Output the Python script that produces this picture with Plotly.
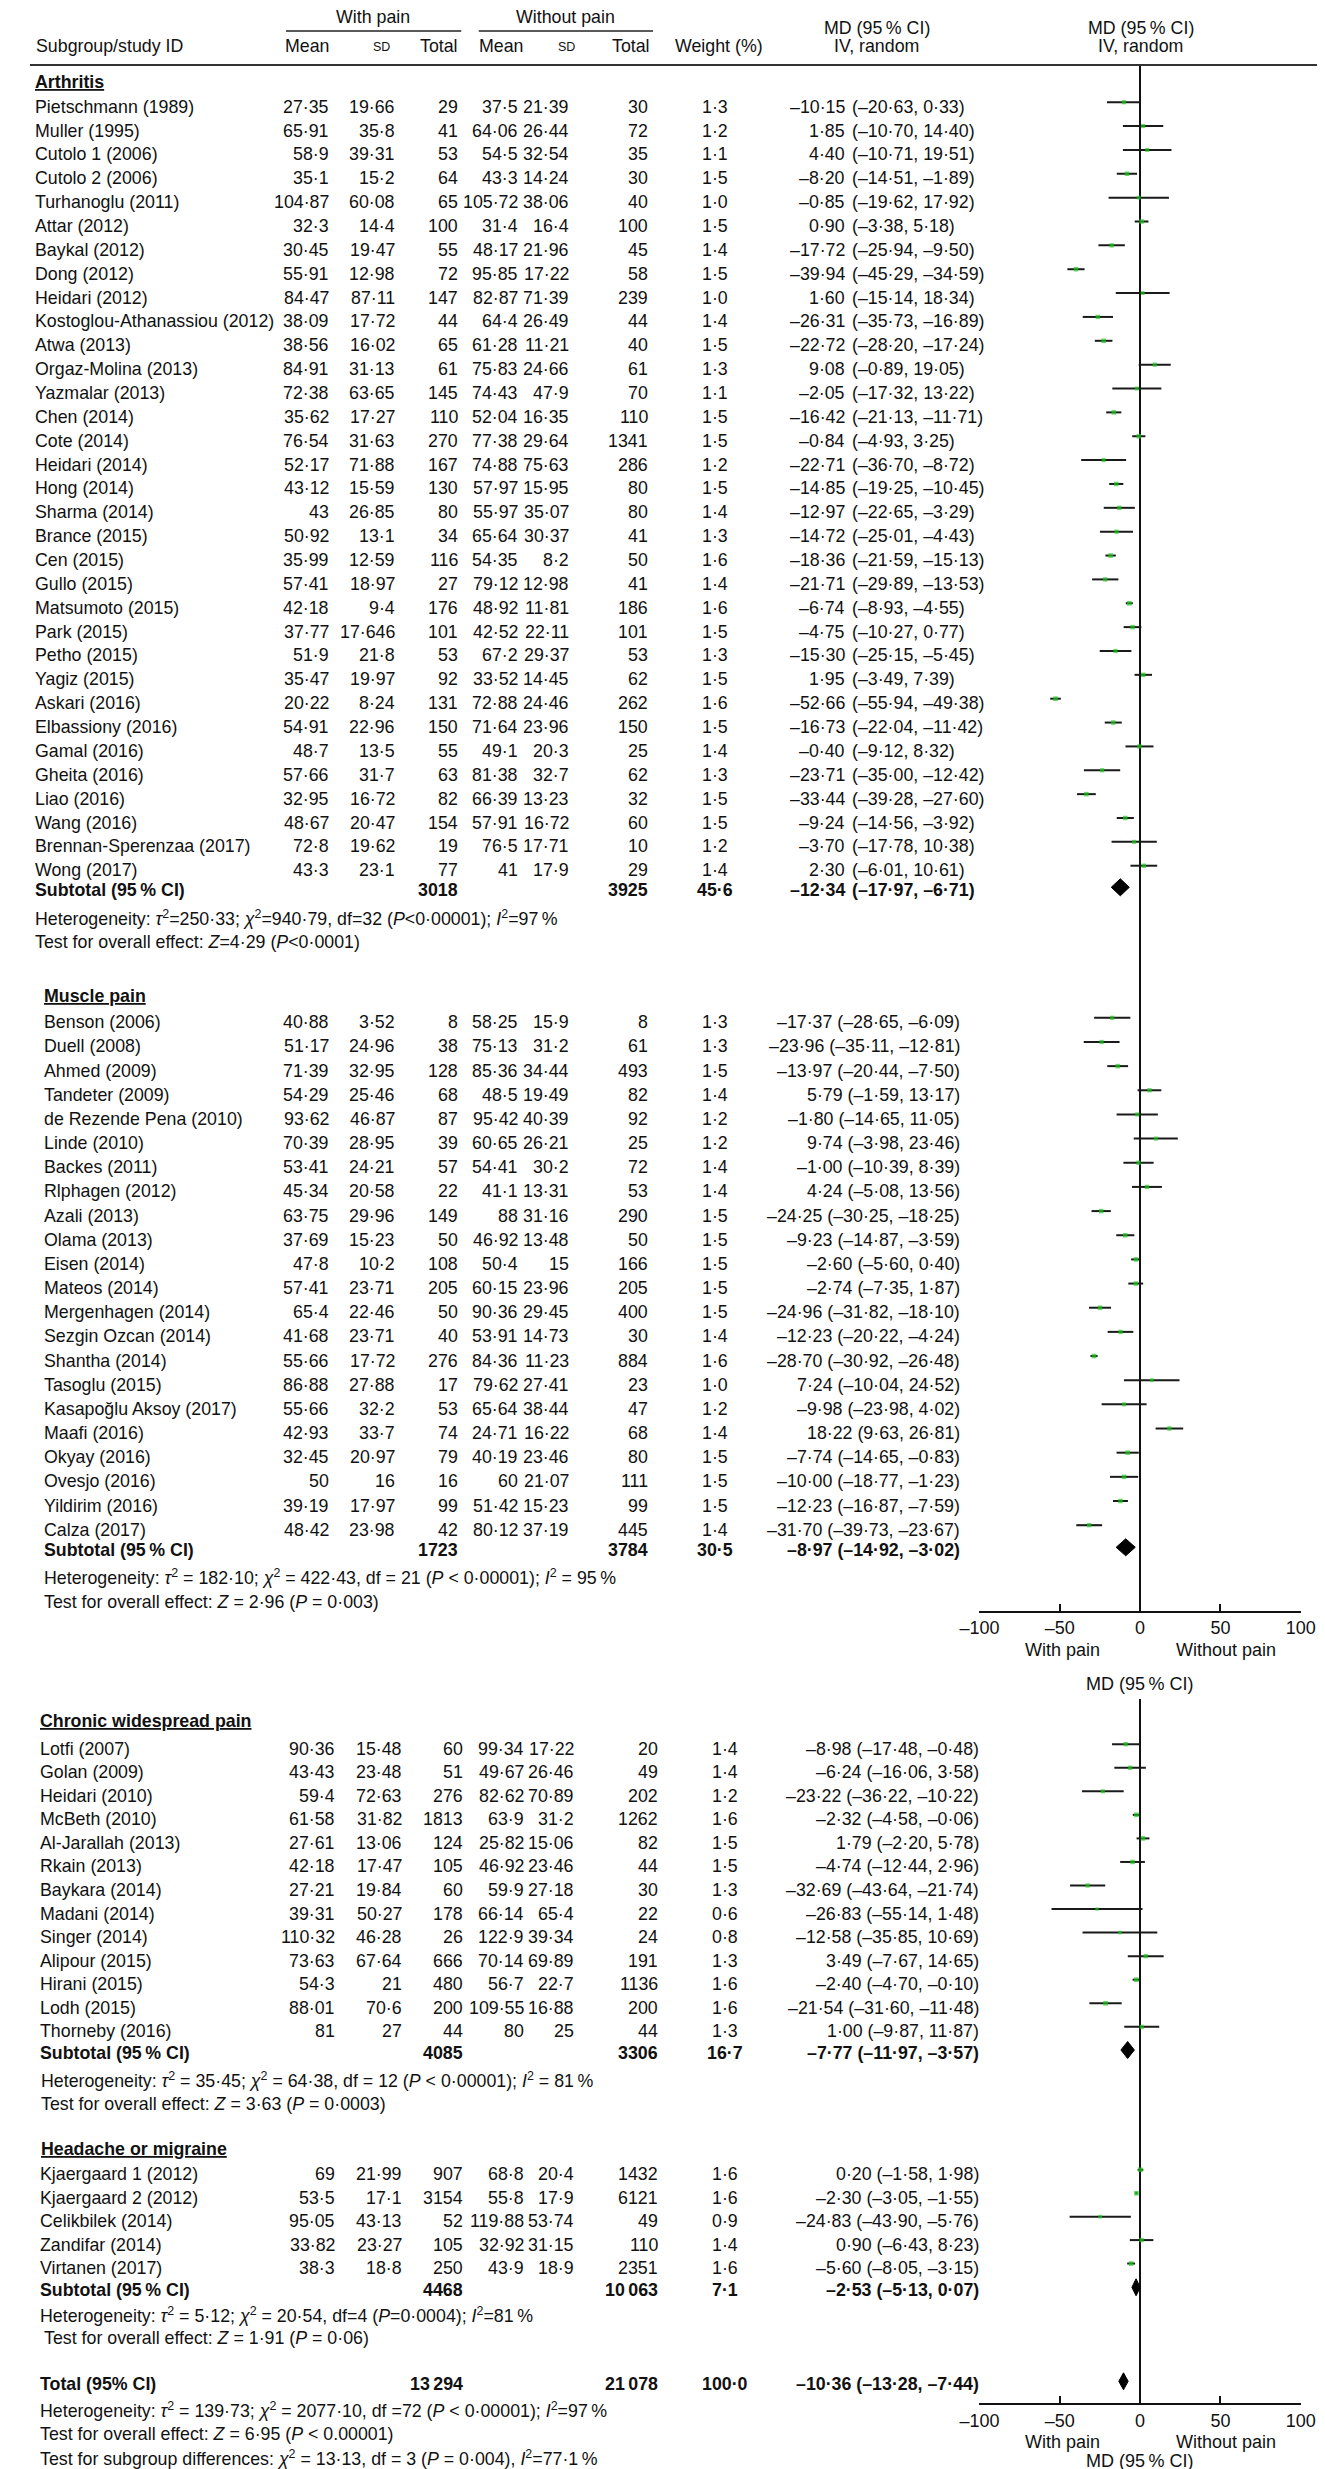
import plotly.graph_objects as go

W, H = 1325, 2469
FONT = "Liberation Sans, Arial, Helvetica, sans-serif"
FS = 17.8
TXT = "#111111"

# ------------------------------------------------------------------ DATA
# Arthritis
arth_names = ["Pietschmann (1989)", "Muller (1995)", "Cutolo 1 (2006)", "Cutolo 2 (2006)", "Turhanoglu (2011)",
              "Attar (2012)", "Baykal (2012)", "Dong (2012)", "Heidari (2012)", "Kostoglou-Athanassiou (2012)",
              "Atwa (2013)", "Orgaz-Molina (2013)", "Yazmalar (2013)", "Chen (2014)", "Cote (2014)",
              "Heidari (2014)", "Hong (2014)", "Sharma (2014)", "Brance (2015)", "Cen (2015)", "Gullo (2015)",
              "Matsumoto (2015)", "Park (2015)", "Petho (2015)", "Yagiz (2015)", "Askari (2016)",
              "Elbassiony (2016)", "Gamal (2016)", "Gheita (2016)", "Liao (2016)", "Wang (2016)",
              "Brennan-Sperenzaa (2017)", "Wong (2017)"]
arth_mean_w = [27.35, 65.91, 58.9, 35.1, 104.87, 32.3, 30.45, 55.91, 84.47, 38.09, 38.56, 84.91, 72.38, 35.62, 76.54,
               52.17, 43.12, 43, 50.92, 35.99, 57.41, 42.18, 37.77, 51.9, 35.47, 20.22, 54.91, 48.7, 57.66, 32.95,
               48.67, 72.8, 43.3]
arth_sd_w = [19.66, 35.8, 39.31, 15.2, 60.08, 14.4, 19.47, 12.98, 87.11, 17.72, 16.02, 31.13, 63.65, 17.27, 31.63,
             71.88, 15.59, 26.85, 13.1, 12.59, 18.97, 9.4, 17.646, 21.8, 19.97, 8.24, 22.96, 13.5, 31.7, 16.72,
             20.47, 19.62, 23.1]
arth_n_w = [29, 41, 53, 64, 65, 100, 55, 72, 147, 44, 65, 61, 145, 110, 270, 167, 130, 80, 34, 116, 27, 176, 101, 53,
            92, 131, 150, 55, 63, 82, 154, 19, 77]
arth_mean_wo = [37.5, 64.06, 54.5, 43.3, 105.72, 31.4, 48.17, 95.85, 82.87, 64.4, 61.28, 75.83, 74.43, 52.04, 77.38,
                74.88, 57.97, 55.97, 65.64, 54.35, 79.12, 48.92, 42.52, 67.2, 33.52, 72.88, 71.64, 49.1, 81.38,
                66.39, 57.91, 76.5, 41]
arth_sd_wo = [21.39, 26.44, 32.54, 14.24, 38.06, 16.4, 21.96, 17.22, 71.39, 26.49, 11.21, 24.66, 47.9, 16.35, 29.64,
              75.63, 15.95, 35.07, 30.37, 8.2, 12.98, 11.81, 22.11, 29.37, 14.45, 24.46, 23.96, 20.3, 32.7, 13.23,
              16.72, 17.71, 17.9]
arth_n_wo = [30, 72, 35, 30, 40, 100, 45, 58, 239, 44, 40, 61, 70, 110, 1341, 286, 80, 80, 41, 50, 41, 186, 101, 53,
             62, 262, 150, 25, 62, 32, 60, 10, 29]
arth_weight = [1.3, 1.2, 1.1, 1.5, 1.0, 1.5, 1.4, 1.5, 1.0, 1.4, 1.5, 1.3, 1.1, 1.5, 1.5, 1.2, 1.5, 1.4, 1.3, 1.6,
               1.4, 1.6, 1.5, 1.3, 1.5, 1.6, 1.5, 1.4, 1.3, 1.5, 1.5, 1.2, 1.4]
arth_md = [-10.15, 1.85, 4.40, -8.20, -0.85, 0.90, -17.72, -39.94, 1.60, -26.31, -22.72, 9.08, -2.05, -16.42, -0.84,
           -22.71, -14.85, -12.97, -14.72, -18.36, -21.71, -6.74, -4.75, -15.30, 1.95, -52.66, -16.73, -0.40,
           -23.71, -33.44, -9.24, -3.70, 2.30]
arth_lo = [-20.63, -10.70, -10.71, -14.51, -19.62, -3.38, -25.94, -45.29, -15.14, -35.73, -28.20, -0.89, -17.32,
           -21.13, -4.93, -36.70, -19.25, -22.65, -25.01, -21.59, -29.89, -8.93, -10.27, -25.15, -3.49, -55.94,
           -22.04, -9.12, -35.00, -39.28, -14.56, -17.78, -6.01]
arth_hi = [0.33, 14.40, 19.51, -1.89, 17.92, 5.18, -9.50, -34.59, 18.34, -16.89, -17.24, 19.05, 13.22, -11.71, 3.25,
           -8.72, -10.45, -3.29, -4.43, -15.13, -13.53, -4.55, 0.77, -5.45, 7.39, -49.38, -11.42, 8.32, -12.42,
           -27.60, -3.92, 10.38, 10.61]
arth_sub_n = [3018, 3925]
arth_sub_weight = 45.6
arth_sub_md = [-12.34, -17.97, -6.71]
arth_het = ("Heterogeneity: <i>τ</i><sup>2</sup>=250·33; <i>χ</i><sup>2</sup>=940·79, df=32 "
            "(<i>P</i>&lt;0·00001); <i>I</i><sup>2</sup>=97\u2009%")
arth_test = "Test for overall effect: <i>Z</i>=4·29 (<i>P</i>&lt;0·0001)"

# Muscle pain
musc_names = ["Benson (2006)", "Duell (2008)", "Ahmed (2009)", "Tandeter (2009)", "de Rezende Pena (2010)",
              "Linde (2010)", "Backes (2011)", "Rlphagen (2012)", "Azali (2013)", "Olama (2013)", "Eisen (2014)",
              "Mateos (2014)", "Mergenhagen (2014)", "Sezgin Ozcan (2014)", "Shantha (2014)", "Tasoglu (2015)",
              "Kasapoğlu Aksoy (2017)", "Maafi (2016)", "Okyay (2016)", "Ovesjo (2016)", "Yildirim (2016)",
              "Calza (2017)"]
musc_mean_w = [40.88, 51.17, 71.39, 54.29, 93.62, 70.39, 53.41, 45.34, 63.75, 37.69, 47.8, 57.41, 65.4, 41.68, 55.66,
               86.88, 55.66, 42.93, 32.45, 50, 39.19, 48.42]
musc_sd_w = [3.52, 24.96, 32.95, 25.46, 46.87, 28.95, 24.21, 20.58, 29.96, 15.23, 10.2, 23.71, 22.46, 23.71, 17.72,
             27.88, 32.2, 33.7, 20.97, 16, 17.97, 23.98]
musc_n_w = [8, 38, 128, 68, 87, 39, 57, 22, 149, 50, 108, 205, 50, 40, 276, 17, 53, 74, 79, 16, 99, 42]
musc_mean_wo = [58.25, 75.13, 85.36, 48.5, 95.42, 60.65, 54.41, 41.1, 88, 46.92, 50.4, 60.15, 90.36, 53.91, 84.36,
                79.62, 65.64, 24.71, 40.19, 60, 51.42, 80.12]
musc_sd_wo = [15.9, 31.2, 34.44, 19.49, 40.39, 26.21, 30.2, 13.31, 31.16, 13.48, 15, 23.96, 29.45, 14.73, 11.23,
              27.41, 38.44, 16.22, 23.46, 21.07, 15.23, 37.19]
musc_n_wo = [8, 61, 493, 82, 92, 25, 72, 53, 290, 50, 166, 205, 400, 30, 884, 23, 47, 68, 80, 111, 99, 445]
musc_weight = [1.3, 1.3, 1.5, 1.4, 1.2, 1.2, 1.4, 1.4, 1.5, 1.5, 1.5, 1.5, 1.5, 1.4, 1.6, 1.0, 1.2, 1.4, 1.5, 1.5,
               1.5, 1.4]
musc_md = [-17.37, -23.96, -13.97, 5.79, -1.80, 9.74, -1.00, 4.24, -24.25, -9.23, -2.60, -2.74, -24.96, -12.23,
           -28.70, 7.24, -9.98, 18.22, -7.74, -10.00, -12.23, -31.70]
musc_lo = [-28.65, -35.11, -20.44, -1.59, -14.65, -3.98, -10.39, -5.08, -30.25, -14.87, -5.60, -7.35, -31.82,
           -20.22, -30.92, -10.04, -23.98, 9.63, -14.65, -18.77, -16.87, -39.73]
musc_hi = [-6.09, -12.81, -7.50, 13.17, 11.05, 23.46, 8.39, 13.56, -18.25, -3.59, 0.40, 1.87, -18.10, -4.24, -26.48,
           24.52, 4.02, 26.81, -0.83, -1.23, -7.59, -23.67]
musc_sub_n = [1723, 3784]
musc_sub_weight = 30.5
musc_sub_md = [-8.97, -14.92, -3.02]
musc_het = ("Heterogeneity: <i>τ</i><sup>2</sup> = 182·10; <i>χ</i><sup>2</sup> = 422·43, df = 21 "
            "(<i>P</i> &lt; 0·00001); <i>I</i><sup>2</sup> = 95\u2009%")
musc_test = "Test for overall effect: <i>Z</i> = 2·96 (<i>P</i> = 0·003)"

# Chronic widespread pain
cwp_names = ["Lotfi (2007)", "Golan (2009)", "Heidari (2010)", "McBeth (2010)", "Al-Jarallah (2013)", "Rkain (2013)",
             "Baykara (2014)", "Madani (2014)", "Singer (2014)", "Alipour (2015)", "Hirani (2015)", "Lodh (2015)",
             "Thorneby (2016)"]
cwp_mean_w = [90.36, 43.43, 59.4, 61.58, 27.61, 42.18, 27.21, 39.31, 110.32, 73.63, 54.3, 88.01, 81]
cwp_sd_w = [15.48, 23.48, 72.63, 31.82, 13.06, 17.47, 19.84, 50.27, 46.28, 67.64, 21, 70.6, 27]
cwp_n_w = [60, 51, 276, 1813, 124, 105, 60, 178, 26, 666, 480, 200, 44]
cwp_mean_wo = [99.34, 49.67, 82.62, 63.9, 25.82, 46.92, 59.9, 66.14, 122.9, 70.14, 56.7, 109.55, 80]
cwp_sd_wo = [17.22, 26.46, 70.89, 31.2, 15.06, 23.46, 27.18, 65.4, 39.34, 69.89, 22.7, 16.88, 25]
cwp_n_wo = [20, 49, 202, 1262, 82, 44, 30, 22, 24, 191, 1136, 200, 44]
cwp_weight = [1.4, 1.4, 1.2, 1.6, 1.5, 1.5, 1.3, 0.6, 0.8, 1.3, 1.6, 1.6, 1.3]
cwp_md = [-8.98, -6.24, -23.22, -2.32, 1.79, -4.74, -32.69, -26.83, -12.58, 3.49, -2.40, -21.54, 1.00]
cwp_lo = [-17.48, -16.06, -36.22, -4.58, -2.20, -12.44, -43.64, -55.14, -35.85, -7.67, -4.70, -31.60, -9.87]
cwp_hi = [-0.48, 3.58, -10.22, -0.06, 5.78, 2.96, -21.74, 1.48, 10.69, 14.65, -0.10, -11.48, 11.87]
cwp_sub_n = [4085, 3306]
cwp_sub_weight = 16.7
cwp_sub_md = [-7.77, -11.97, -3.57]
cwp_het = ("Heterogeneity: <i>τ</i><sup>2</sup> = 35·45; <i>χ</i><sup>2</sup> = 64·38, df = 12 "
           "(<i>P</i> &lt; 0·00001); <i>I</i><sup>2</sup> = 81\u2009%")
cwp_test = "Test for overall effect: <i>Z</i> = 3·63 (<i>P</i> = 0·0003)"

# Headache or migraine
head_names = ["Kjaergaard 1 (2012)", "Kjaergaard 2 (2012)", "Celikbilek (2014)", "Zandifar (2014)", "Virtanen (2017)"]
head_mean_w = [69, 53.5, 95.05, 33.82, 38.3]
head_sd_w = [21.99, 17.1, 43.13, 23.27, 18.8]
head_n_w = [907, 3154, 52, 105, 250]
head_mean_wo = [68.8, 55.8, 119.88, 32.92, 43.9]
head_sd_wo = [20.4, 17.9, 53.74, 31.15, 18.9]
head_n_wo = [1432, 6121, 49, 110, 2351]
head_weight = [1.6, 1.6, 0.9, 1.4, 1.6]
head_md = [0.20, -2.30, -24.83, 0.90, -5.60]
head_lo = [-1.58, -3.05, -43.90, -6.43, -8.05]
head_hi = [1.98, -1.55, -5.76, 8.23, -3.15]
head_sub_n = [4468, 10063]
head_sub_weight = 7.1
head_sub_md = [-2.53, -5.13, 0.07]
head_het = ("Heterogeneity: <i>τ</i><sup>2</sup> = 5·12; <i>χ</i><sup>2</sup> = 20·54, df=4 "
            "(<i>P</i>=0·0004); <i>I</i><sup>2</sup>=81\u2009%")
head_test = "Test for overall effect: <i>Z</i> = 1·91 (<i>P</i> = 0·06)"

# Overall
total_n = [13294, 21078]
total_weight = 100.0
total_md = [-10.36, -13.28, -7.44]
total_het = ("Heterogeneity: <i>τ</i><sup>2</sup> = 139·73; <i>χ</i><sup>2</sup> = 2077·10, df =72 "
             "(<i>P</i> &lt; 0·00001); <i>I</i><sup>2</sup>=97\u2009%")
total_test = "Test for overall effect: <i>Z</i> = 6·95 (<i>P</i> &lt; 0.00001)"
subgroup_test = ("Test for subgroup differences: <i>χ</i><sup>2</sup> = 13·13, df = 3 (<i>P</i> = 0·004), "
                 "<i>I</i><sup>2</sup>=77·1\u2009%")

tick_vals = [-100, -50, 0, 50, 100]
tick_text = ["–100", "–50", "0", "50", "100"]

# ------------------------------------------------------------------ LAYOUT (pixel positions)
# md: right edge of whole MD text; md_split: (right edge of estimate, left edge of CI) if decimal-style split
COLS_A = dict(mw=310, sw=378, nw=443, mo=504, so=557, no=638, wt=706, md=959, md_split=(840.6, 845.6))
COLS_B = dict(mw=316.7, sw=385, nw=448.3, mo=510, so=562, no=648, wt=716, md=978, md_split=None)
TXT_DY = 4.5  # text centre sits a little below mark centre

sections = [
    dict(title="Arthritis", names=arth_names, mw=arth_mean_w, sw=arth_sd_w, nw=arth_n_w, mo=arth_mean_wo,
         so=arth_sd_wo, no=arth_n_wo, wt=arth_weight, md=arth_md, lo=arth_lo, hi=arth_hi,
         sub_n=arth_sub_n, sub_wt=arth_sub_weight, sub_md=arth_sub_md, het=arth_het, test=arth_test,
         panel=1, hx=6, hy=74, lx=6, y0=98.7, dy=23.86, sy=882.3, hety=910, testy=934.3, hetx=6, testx=6,
         cols=dict(COLS_A)),
    dict(title="Muscle pain", names=musc_names, mw=musc_mean_w, sw=musc_sd_w, nw=musc_n_w, mo=musc_mean_wo,
         so=musc_sd_wo, no=musc_n_wo, wt=musc_weight, md=musc_md, lo=musc_lo, hi=musc_hi,
         sub_n=musc_sub_n, sub_wt=musc_sub_weight, sub_md=musc_sub_md, het=musc_het, test=musc_test,
         panel=1, hx=15, hy=988.3, lx=15, y0=1014.3, dy=24.16, sy=1542.3, hety=1569.3, testy=1594.3, hetx=15,
         testx=15, cols=dict(COLS_A, md=958, md_split=None)),
    dict(title="Chronic widespread pain", names=cwp_names, mw=cwp_mean_w, sw=cwp_sd_w, nw=cwp_n_w,
         mo=cwp_mean_wo, so=cwp_sd_wo, no=cwp_n_wo, wt=cwp_weight, md=cwp_md, lo=cwp_lo, hi=cwp_hi,
         sub_n=cwp_sub_n, sub_wt=cwp_sub_weight, sub_md=cwp_sub_md, het=cwp_het, test=cwp_test,
         panel=2, hx=11.7, hy=1713.3, lx=11.7, y0=1740.7, dy=23.55, sy=2045, hety=2072.3, testy=2095.7,
         hetx=12.7, testx=12.7, cols=dict(COLS_B)),
    dict(title="Headache or migraine", names=head_names, mw=head_mean_w, sw=head_sd_w, nw=head_n_w,
         mo=head_mean_wo, so=head_sd_wo, no=head_n_wo, wt=head_weight, md=head_md, lo=head_lo, hi=head_hi,
         sub_n=head_sub_n, sub_wt=head_sub_weight, sub_md=head_sub_md, het=head_het, test=head_test,
         panel=2, hx=12.7, hy=2140.7, lx=11.7, y0=2166.3, dy=23.43, sy=2282.3, hety=2307.3, testy=2330,
         hetx=11.7, testx=15, cols=dict(COLS_B)),
]
TOTAL = dict(y=2376.3, hety=2402.3, testy=2425.7, sgy=2450, x=11.7, cols=COLS_B)

PANELS = {1: dict(top=57, bottom=1602.7), 2: dict(top=1690.7, bottom=2395.3)}
AX_L, AX_R = 977.3, 1307.3


def fnum(v):
    return str(v).replace("-", "–").replace(".", "·")


def fn(n):
    return f"{n:,}".replace(",", "\u2009") if n >= 10000 else str(n)


def fest(m):
    return f"{m:.2f}".replace("-", "–").replace(".", "·")


def fci(lo, hi):
    return f"({lo:.2f}, {hi:.2f})".replace("-", "–").replace(".", "·")


fig = go.Figure()
annotations = []
shapes = []


def ann(x, y, text, anchor="left", size=FS, bold=False):
    if bold:
        text = f"<b>{text}</b>"
    annotations.append(dict(x=x, y=y, xref="x3", yref="y3", text=text, showarrow=False, xanchor=anchor,
                            yanchor="middle", font=dict(family=FONT, size=size, color=TXT), borderpad=0))


def md_text(c, y, m, lo, hi, bold=False):
    if c["md_split"]:
        xe, xc = c["md_split"]
        ann(xe, y, fest(m), "right", bold=bold)
        ann(xc, y, fci(lo, hi), "left", bold=bold)
    else:
        ann(c["md"], y, fest(m) + " " + fci(lo, hi), "right", bold=bold)


# header
ann(354, 9, "With pain", "center")
ann(552, 9, "Without pain", "center")
ann(7, 38, "Subgroup/study ID")
ann(310, 38, "Mean", "right")
ann(363, 39, "SD", "center", size=12.5)
ann(443, 38, "Total", "right")
ann(509, 38, "Mean", "right")
ann(553, 39, "SD", "center", size=12.5)
ann(640, 38, "Total", "right")
ann(710, 38, "Weight (%)", "center")
ann(872, 20, "MD (95\u2009% CI)", "center")
ann(872, 38, "IV, random", "center")
ann(1143, 20, "MD (95\u2009% CI)", "center")
ann(1143, 38, "IV, random", "center")
shapes.append(dict(type="line", xref="x3", yref="y3", x0=265, x1=445, y0=23, y1=23,
                   line=dict(color="#222", width=1.5)))
shapes.append(dict(type="line", xref="x3", yref="y3", x0=463, x1=642, y0=23, y1=23,
                   line=dict(color="#222", width=1.5)))
shapes.append(dict(type="line", xref="x3", yref="y3", x0=2, x1=W, y0=57, y1=57,
                   line=dict(color="#333", width=2.2)))

panel_ci = {1: ([], []), 2: ([], [])}
panel_pts = {1: ([], [], []), 2: ([], [], [])}

for s in sections:
    c = s["cols"]
    ann(s["hx"], s["hy"], f"<span style='text-decoration:underline'>{s['title']}</span>", bold=True)
    for i, name in enumerate(s["names"]):
        ty = s["y0"] + i * s["dy"]
        ann(s["lx"], ty, name)
        ann(c["mw"], ty, fnum(s["mw"][i]), "right")
        ann(c["sw"], ty, fnum(s["sw"][i]), "right")
        ann(c["nw"], ty, fn(s["nw"][i]), "right")
        ann(c["mo"], ty, fnum(s["mo"][i]), "right")
        ann(c["so"], ty, fnum(s["so"][i]), "right")
        ann(c["no"], ty, fn(s["no"][i]), "right")
        ann(c["wt"], ty, fnum(s["wt"][i]), "center")
        md_text(c, ty, s["md"][i], s["lo"][i], s["hi"][i])
        my = ty - TXT_DY
        xs, ys = panel_ci[s["panel"]]
        xs += [s["lo"][i], s["hi"][i], None]
        ys += [my, my, None]
        px, py, pw = panel_pts[s["panel"]]
        px.append(s["md"][i]); py.append(my); pw.append(s["wt"][i])
    # subtotal
    sy = s["sy"]
    ann(s["lx"], sy, "Subtotal (95\u2009% CI)", bold=True)
    ann(c["nw"], sy, fn(s["sub_n"][0]), "right", bold=True)
    ann(c["no"], sy, fn(s["sub_n"][1]), "right", bold=True)
    ann(c["wt"], sy, fnum(s["sub_wt"]), "center", bold=True)
    md_text(c, sy, *s["sub_md"], bold=True)
    ann(s["hetx"], s["hety"], s["het"])
    ann(s["testx"], s["testy"], s["test"])
    m, lo, hi = s["sub_md"]
    dyv = sy - 3
    ax = "x" if s["panel"] == 1 else "x2"
    ay = "y" if s["panel"] == 1 else "y2"
    fig.add_trace(go.Scatter(x=[lo, m, hi, m, lo], y=[dyv, dyv - 8.5, dyv, dyv + 8.5, dyv], mode="lines",
                             fill="toself", fillcolor="#000", line=dict(color="#000", width=1),
                             xaxis=ax, yaxis=ay, hoverinfo="skip", cliponaxis=False))

# overall total
c = TOTAL["cols"]
ty = TOTAL["y"]
ann(TOTAL["x"], ty, "Total (95% CI)", bold=True)
ann(c["nw"], ty, fn(total_n[0]), "right", bold=True)
ann(c["no"], ty, fn(total_n[1]), "right", bold=True)
ann(c["wt"], ty, fnum(total_weight), "center", bold=True)
md_text(c, ty, *total_md, bold=True)
ann(TOTAL["x"], TOTAL["hety"], total_het)
ann(TOTAL["x"], TOTAL["testy"], total_test)
ann(TOTAL["x"], TOTAL["sgy"], subgroup_test)
m, lo, hi = total_md
dyv = ty - 3
fig.add_trace(go.Scatter(x=[lo, m, hi, m, lo], y=[dyv, dyv - 8.5, dyv, dyv + 8.5, dyv], mode="lines",
                         fill="toself", fillcolor="#000", line=dict(color="#000", width=1),
                         xaxis="x2", yaxis="y2", hoverinfo="skip", cliponaxis=False))

for p in (1, 2):
    ax = "x" if p == 1 else "x2"
    ay = "y" if p == 1 else "y2"
    xs, ys = panel_ci[p]
    fig.add_trace(go.Scatter(x=xs, y=ys, mode="lines", line=dict(color="#1a1a1a", width=2),
                             xaxis=ax, yaxis=ay, hoverinfo="skip", cliponaxis=False))
    px, py, pw = panel_pts[p]
    fig.add_trace(go.Scatter(x=px, y=py, mode="markers",
                             marker=dict(symbol="square", color="#1ec81e", size=[2.4 + 1.4 * w for w in pw],
                                         line=dict(width=0)),
                             xaxis=ax, yaxis=ay, hoverinfo="skip", cliponaxis=False))
    bottom = PANELS[p]["bottom"]
    ann(1062.7, bottom + 39, "With pain", "center", size=18)
    ann(1231, bottom + 39, "Without pain", "center", size=18)
    ann(1142, bottom + 73.3 if p == 1 else bottom + 58, "MD (95\u2009% CI)", "center", size=18)

# canvas dummy trace
fig.add_trace(go.Scatter(x=[0], y=[0], mode="markers", marker=dict(opacity=0), xaxis="x3", yaxis="y3",
                         hoverinfo="skip"))

xax = dict(range=[-100, 100], tickvals=tick_vals, ticktext=tick_text, ticks="inside", ticklen=7, tickwidth=2,
           tickcolor="#111", showline=True, linecolor="#111", linewidth=2, showgrid=False, zeroline=True,
           zerolinecolor="#111", zerolinewidth=2, tickfont=dict(family=FONT, size=18, color=TXT),
           domain=[AX_L / W, AX_R / W], fixedrange=True)
yax = dict(visible=False, showgrid=False, zeroline=False, fixedrange=True)

fig.update_layout(
    width=W, height=H, margin=dict(l=0, r=0, t=0, b=0), paper_bgcolor="white", plot_bgcolor="rgba(0,0,0,0)",
    showlegend=False,
    xaxis=dict(xax, anchor="y"),
    yaxis=dict(yax, anchor="x", domain=[1 - PANELS[1]["bottom"] / H, 1 - PANELS[1]["top"] / H],
               range=[PANELS[1]["bottom"], PANELS[1]["top"]]),
    xaxis2=dict(xax, anchor="y2"),
    yaxis2=dict(yax, anchor="x2", domain=[1 - PANELS[2]["bottom"] / H, 1 - PANELS[2]["top"] / H],
                range=[PANELS[2]["bottom"], PANELS[2]["top"]]),
    xaxis3=dict(visible=False, range=[0, W], domain=[0, 1], anchor="y3", fixedrange=True),
    yaxis3=dict(visible=False, range=[H, 0], domain=[0, 1], anchor="x3", fixedrange=True),
    annotations=annotations, shapes=shapes,
)

fig.write_html("out.html")
